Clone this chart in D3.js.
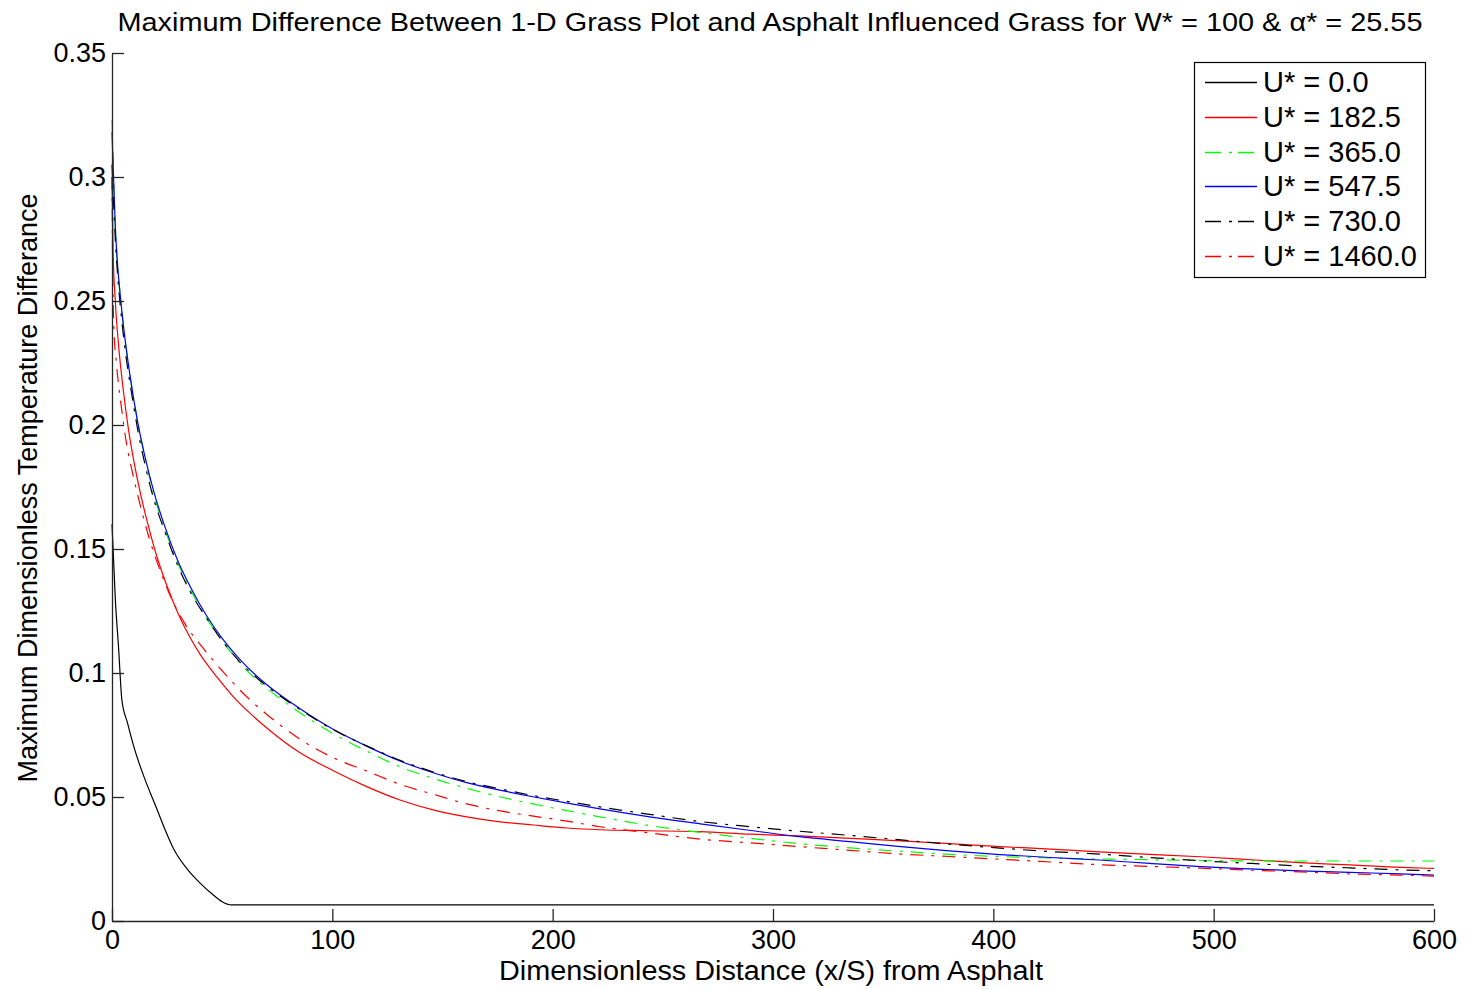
<!DOCTYPE html>
<html>
<head>
<meta charset="utf-8">
<script src="https://cdn.jsdelivr.net/npm/d3@7"></script>
<style>
  body { margin: 0; background: #fff; }
  svg { display: block; font-family: "Liberation Sans", Arial, sans-serif; }
</style>
</head>
<body>
<svg id="chart" width="1467" height="989"></svg>
<script>
// DATA
var xTicks = [0, 100, 200, 300, 400, 500, 600];
var yTicks = [0, 0.05, 0.1, 0.15, 0.2, 0.25, 0.3, 0.35];
var labels = ['U* = 0.0', 'U* = 182.5', 'U* = 365.0', 'U* = 547.5', 'U* = 730.0', 'U* = 1460.0'];

var u0 = [[0,0.16],[0.5,0.15],[1.5,0.13],[3,0.11],[4.5,0.089],[7,0.08],[10,0.07],[15,0.057],
  [20,0.046],[24,0.037],[28,0.029],[35,0.02],[40,0.0153],[46,0.0105],[50,0.0078],[54,0.0065],[600,0.0065]];

var u182 = [[0,0.30],[0.5,0.27],[1.5,0.25],[3,0.232],[5,0.215],[7.5,0.198],[10,0.185],[13,0.172],
  [16,0.161],[20,0.148],[25,0.135],[30,0.124],[35,0.115],[40,0.1075],[47.5,0.0985],[55,0.0905],
  [62,0.0843],[70,0.078],[85,0.068],[100,0.0608],[115.6,0.0542],[130.7,0.0488],[145.8,0.0448],
  [161,0.042],[176.1,0.040],[191.2,0.0387],[206.4,0.0375],[221.5,0.0368],[244,0.0364],[267,0.036],
  [290,0.035],[312,0.0343],[335,0.0333],[358,0.0323],[380,0.0312],[403,0.030],[426,0.029],[448,0.0279],
  [471,0.0269],[494,0.0259],[517,0.0247],[539,0.0235],[562,0.0226],[585,0.0216],[600,0.0212]];

var u365 = [[0,0.323],[0.7,0.30],[1.5,0.28],[2.5,0.265],[4,0.25],[6,0.234],[8.5,0.218],[11.5,0.202],
  [15,0.187],[19,0.172],[24,0.158],[30,0.144],[36,0.133],[43,0.122],[50,0.113],[58,0.104],[66,0.097],
  [75,0.0905],[85,0.0842],[100,0.0757],[115.6,0.0685],[130.7,0.0622],[145.8,0.0575],[161,0.0535],
  [176,0.0501],[191,0.0472],[206,0.0446],[221.5,0.042],[244,0.0385],[267,0.0357],[290,0.0333],
  [312,0.0312],[335,0.0295],[358,0.0281],[380,0.0269],[403,0.026],[426,0.0254],[449,0.025],[471,0.0247],
  [494,0.0244],[540,0.0242],[600,0.0242]];

var u547 = [[0,0.318],[0.7,0.30],[1.5,0.28],[2.5,0.265],[4,0.25],[6,0.234],[8.5,0.218],[11.5,0.202],
  [15,0.187],[19,0.173],[24,0.159],[30,0.145],[36,0.134],[43,0.123],[50,0.114],[58,0.1055],[66,0.0985],
  [75,0.092],[85,0.0858],[100,0.0775],[115.6,0.0705],[130.7,0.0645],[145.8,0.0598],[161,0.0558],
  [176,0.0528],[191,0.0501],[206,0.0476],[221.5,0.0452],[244,0.042],[267,0.0392],[290,0.0365],
  [312,0.034],[335,0.032],[358,0.030],[380,0.0283],[403,0.0268],[426,0.0256],[448,0.0246],[471,0.0232],
  [494,0.0219],[517,0.021],[539,0.0202],[562,0.0196],[585,0.019],[600,0.0185]];

var u730 = [[0,0.305],[0.7,0.29],[1.5,0.275],[2.5,0.261],[4,0.246],[6,0.23],[8.5,0.215],[11.5,0.199],
  [15,0.184],[19,0.17],[24,0.157],[30,0.143],[36,0.132],[43,0.122],[50,0.113],[58,0.1045],[66,0.0978],
  [75,0.0915],[85,0.0855],[100,0.0773],[115.6,0.0706],[130.7,0.0648],[145.8,0.0601],[161,0.0562],
  [176,0.0533],[191,0.0506],[206,0.0483],[221.5,0.046],[244,0.043],[267,0.0401],[290,0.038],
  [312,0.0362],[335,0.0345],[358,0.0327],[380,0.031],[403,0.0294],[426,0.028],[448,0.027],[471,0.0256],
  [494,0.0243],[517,0.0232],[539,0.0222],[562,0.0214],[585,0.0206],[600,0.0203]];

var u1460 = [[0,0.30],[0.3,0.265],[0.8,0.24],[2,0.225],[4,0.209],[6.5,0.193],[9.5,0.18],[13,0.167],
  [17,0.154],[22,0.141],[27,0.13],[33,0.12],[40,0.1115],[47,0.104],[55,0.096],[62,0.0897],
  [70,0.0835],[85,0.0735],[100,0.066],[115.6,0.0605],[130.7,0.0551],[145.8,0.0511],[161,0.0472],
  [176.1,0.0444],[191.2,0.0423],[206.4,0.0403],[221.5,0.038],[244,0.0355],[267,0.033],[290,0.0315],
  [312,0.030],[335,0.0285],[358,0.027],[380,0.026],[403,0.0249],[426,0.0238],[448,0.0227],[471,0.022],
  [494,0.0213],[517,0.0205],[539,0.0198],[562,0.019],[585,0.0185],[600,0.0181]];

var seriesData = [u0, u182, u365, u547, u730, u1460];

// STYLE
var colors = ['#000000', '#ff0000', '#00ff00', '#0000ff', '#000000', '#ff0000'];
var dashes = [null, null, '13,8,3,8', null, '13,8,3,8', '13,8,3,8'];

// CHART
var chrt = {
    left: 112, right: 1434, top: 53, bottom: 921,
    build: function() {
        var svg = d3.select('svg#chart');
        var x = d3.scaleLinear().domain([0, 600]).range([this.left, this.right]);
        var y = d3.scaleLinear().domain([0, 0.35]).range([this.bottom, this.top]);

        // Title
        svg.append('text')
            .attr('x', 770).attr('y', 31)
            .attr('text-anchor', 'middle')
            .attr('font-size', 25)
            .attr('textLength', 1305)
            .attr('lengthAdjust', 'spacingAndGlyphs')
            .text('Maximum Difference Between 1-D Grass Plot and Asphalt Influenced Grass for W* = 100 & \u03b1* = 25.55');

        // Lines
        var line = d3.line()
            .x(function(d) { return x(d[0]); })
            .y(function(d) { return y(d[1]); })
            .curve(d3.curveMonotoneX);

        svg.append('g').selectAll('path')
            .data(seriesData)
            .enter().append('path')
            .attr('d', line)
            .attr('fill', 'none')
            .attr('stroke', function(d, i) { return colors[i]; })
            .attr('stroke-width', 1.2)
            .attr('stroke-dasharray', function(d, i) { return dashes[i]; });

        // Axes, ticks pointing inward
        var xAxis = svg.append('g')
            .attr('transform', 'translate(0,' + this.bottom + ')')
            .call(d3.axisBottom(x).tickValues(xTicks).tickSizeInner(-12).tickSizeOuter(0).tickPadding(9)
                .tickFormat(function(d) { return String(d); }));

        var yAxis = svg.append('g')
            .attr('transform', 'translate(' + this.left + ',0)')
            .call(d3.axisLeft(y).tickValues(yTicks).tickSizeInner(-12).tickSizeOuter(0).tickPadding(6)
                .tickFormat(function(d) { return String(d); }));

        [xAxis, yAxis].forEach(function(a) {
            a.selectAll('path, line').attr('stroke', '#262626').attr('stroke-width', 1.3);
            a.selectAll('text')
                .attr('fill', '#000')
                .attr('font-size', 27)
                .attr('font-family', '"Liberation Sans", Arial, sans-serif');
        });

        // Axis labels
        svg.append('text')
            .attr('x', 771).attr('y', 980)
            .attr('text-anchor', 'middle')
            .attr('font-size', 27)
            .attr('textLength', 544)
            .attr('lengthAdjust', 'spacingAndGlyphs')
            .text('Dimensionless Distance (x/S) from Asphalt');

        svg.append('text')
            .attr('transform', 'translate(37,488) rotate(-90)')
            .attr('text-anchor', 'middle')
            .attr('font-size', 27)
            .attr('textLength', 589)
            .attr('lengthAdjust', 'spacingAndGlyphs')
            .text('Maximum Dimensionless Temperature Differance');

        // Legend
        var lg = svg.append('g');
        lg.append('rect')
            .attr('x', 1194.5).attr('y', 62.5)
            .attr('width', 231).attr('height', 215)
            .attr('fill', '#fff').attr('stroke', '#000').attr('stroke-width', 1.2);
        var rows = lg.selectAll('g.row')
            .data(labels)
            .enter().append('g')
            .attr('class', 'row')
            .attr('transform', function(d, i) { return 'translate(0,' + Math.round(82 + i * 34.8) + ')'; });
        rows.append('line')
            .attr('x1', 1205).attr('x2', 1257)
            .attr('y1', 0.5).attr('y2', 0.5)
            .attr('stroke', function(d, i) { return colors[i]; })
            .attr('stroke-width', 1.3)
            .attr('stroke-dasharray', function(d, i) { return dashes[i] ? '16,8,3,6' : null; });
        rows.append('text')
            .attr('x', 1263).attr('y', 10)
            .attr('font-size', 29)
            .text(function(d) { return d; });
    }
};

chrt.build();
</script>
</body>
</html>
